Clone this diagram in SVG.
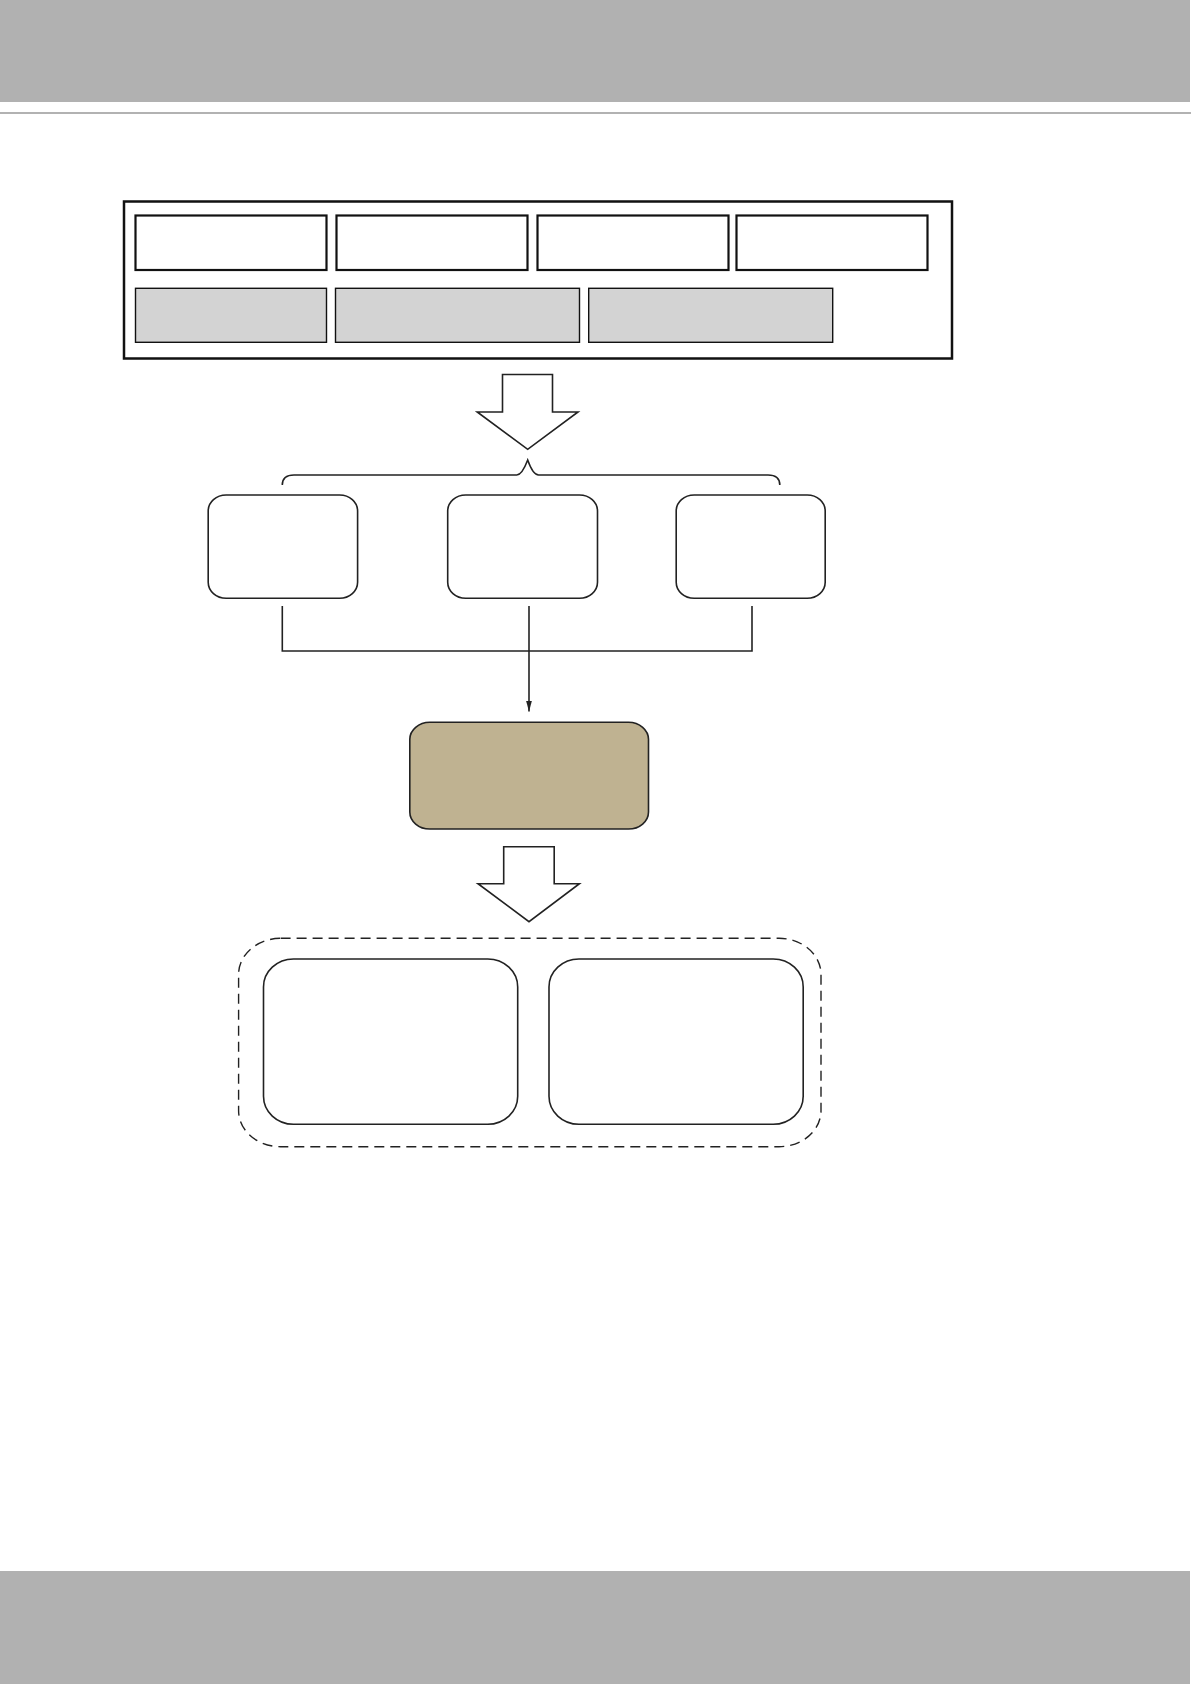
<svg xmlns="http://www.w3.org/2000/svg" width="1191" height="1684" viewBox="0 0 1191 1684">
<defs>
<style>
.band{fill:#b1b1b1}
.cell{fill:#ffffff;stroke:#111;stroke-width:2.2}
.gcell{fill:#d3d3d3;stroke:#111;stroke-width:1.4}
.rbox{fill:#ffffff;stroke:#222;stroke-width:1.6}
.tan{fill:#bfb291;stroke:#222;stroke-width:1.6}
.barrow{fill:#ffffff;stroke:#222;stroke-width:1.6;stroke-linejoin:miter}
.conn{fill:none;stroke:#222;stroke-width:1.6}
.dash{fill:none;stroke:#222;stroke-width:1.4;stroke-dasharray:10 6}
</style>
<marker id="ah" viewBox="0 0 10 10" refX="10" refY="5" markerWidth="11" markerHeight="6" markerUnits="userSpaceOnUse" orient="auto" preserveAspectRatio="none">
<path d="M0,0 L10,5 L0,10 Z" fill="#222"/>
</marker>
</defs>
<rect width="1191" height="1684" fill="#ffffff"/>
<g id="header">
<rect class="band" x="0" y="0" width="1190" height="102"/>
<line x1="0" y1="113" x2="1191" y2="113" stroke="#999" stroke-width="1.5"/>
</g>
<g id="footer">
<rect class="band" x="0" y="1571" width="1190" height="113"/>
</g>
<g id="top-container">
<rect x="124" y="201.5" width="828" height="157" fill="#fff" stroke="#111" stroke-width="2.5"/>
</g>
<g id="cell-1"><rect class="cell" x="135.5" y="215.5" width="191" height="54.5"/></g>
<g id="cell-2"><rect class="cell" x="336.5" y="215.5" width="191" height="54.5"/></g>
<g id="cell-3"><rect class="cell" x="537.5" y="215.5" width="191" height="54.5"/></g>
<g id="cell-4"><rect class="cell" x="736.5" y="215.5" width="191" height="54.5"/></g>
<g id="gcell-1"><rect class="gcell" x="135.5" y="288.3" width="191" height="54"/></g>
<g id="gcell-2"><rect class="gcell" x="335.5" y="288.3" width="244" height="54"/></g>
<g id="gcell-3"><rect class="gcell" x="588.7" y="288.3" width="244" height="54"/></g>
<g id="block-arrow-1">
<polygon class="barrow" points="502.5,374.5 552.5,374.5 552.5,412 578,412 527.7,449.3 477.2,412 502.5,412"/>
</g>
<g id="brace">
<path class="conn" d="M282.3,485 Q282.3,475 294,475 L516.7,475 Q522,475 527.7,460 Q533,475 538.6,475 L768,475 Q779.8,475 779.8,485"/>
</g>
<g id="box-1"><rect class="rbox" x="208.2" y="495" width="149.4" height="103.3" rx="18" ry="16"/></g>
<g id="box-2"><rect class="rbox" x="447.7" y="495" width="149.8" height="103.3" rx="18" ry="16"/></g>
<g id="box-3"><rect class="rbox" x="676.2" y="495" width="149" height="103.3" rx="18" ry="16"/></g>
<g id="connectors">
<polyline class="conn" points="282.3,606 282.3,651 752,651 752,606"/>
<line class="conn" x1="529" y1="606" x2="529" y2="711.5" marker-end="url(#ah)"/>
</g>
<g id="tan-box"><rect class="tan" x="409.8" y="722.3" width="238.7" height="106.7" rx="20" ry="17"/></g>
<g id="block-arrow-2">
<polygon class="barrow" points="503.7,846.7 554.2,846.7 554.2,883.7 579.4,883.7 529,921.7 478,883.7 503.7,883.7"/>
</g>
<g id="dashed-group">
<rect class="dash" x="238.6" y="938.3" width="582.4" height="208.4" rx="42" ry="36"/>
</g>
<g id="box-left"><rect class="rbox" x="263.5" y="959" width="254.2" height="165.3" rx="30" ry="28"/></g>
<g id="box-right"><rect class="rbox" x="549" y="959" width="254.2" height="165.3" rx="30" ry="28"/></g>
</svg>
